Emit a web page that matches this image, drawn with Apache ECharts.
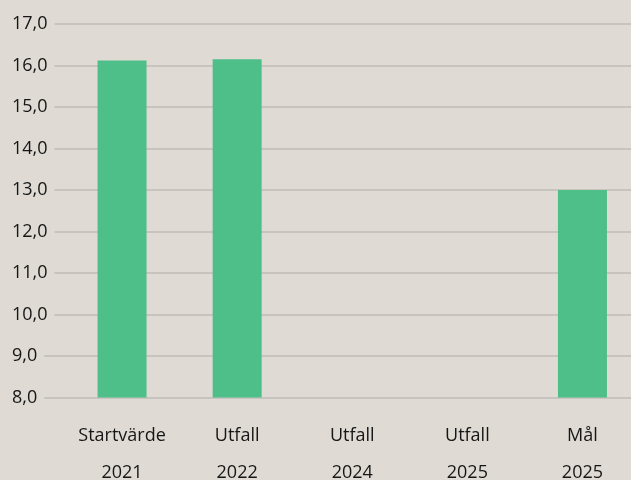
<!DOCTYPE html>
<html>
<head>
<meta charset="utf-8">
<script src="https://cdn.jsdelivr.net/npm/echarts@6/dist/echarts.min.js"></script>
<style>
  html, body { margin: 0; padding: 0; background: #dfdbd4; }
  #chart { width: 631px; height: 480px; }
</style>
</head>
<body>
<div id="chart"></div>
<script>
// Chart data
const categories = ['Startvärde\n2021', 'Utfall\n2022', 'Utfall\n2024', 'Utfall\n2025', 'Mål\n2025'];
const values = [16.12, 16.15, null, null, 13.0];
const yMin = 8;
const yMax = 17;
const yStep = 1;

const chart = echarts.init(document.getElementById('chart'));
const font = '"Open Sans", sans-serif';

// grid 0 carries the value labels and grid lines, grid 1 carries the bars
chart.setOption({
  backgroundColor: '#dfdbd4',
  animation: false,
  grid: [
    { left: 12, right: -9, top: 24, bottom: 82.5, outerBoundsMode: 'none' },
    { left: 64.5, right: -9, top: 24, bottom: 82.5, outerBoundsMode: 'none' }
  ],
  xAxis: [
    { gridIndex: 0, type: 'category', data: categories, show: false },
    {
      gridIndex: 1,
      type: 'category',
      data: categories,
      axisLine: { show: false },
      axisTick: { show: false },
      axisLabel: {
        interval: 0,
        color: '#161616',
        fontFamily: font,
        fontSize: 18,
        lineHeight: 37,
        margin: 20
      }
    }
  ],
  yAxis: [
    {
      gridIndex: 0,
      type: 'value',
      min: yMin,
      max: yMax,
      interval: yStep,
      axisLine: { show: false },
      axisTick: { show: false },
      splitLine: { lineStyle: { color: '#c7c3be', width: 2 } },
      axisLabel: {
        inside: true,
        margin: 0,
        color: '#161616',
        fontFamily: font,
        fontSize: 18,
        backgroundColor: '#dfdbd4',
        padding: [2, 7, 2, 0],
        formatter: v => v.toFixed(1).replace('.', ',')
      }
    },
    { gridIndex: 1, type: 'value', min: yMin, max: yMax, interval: yStep, show: false }
  ],
  series: [
    {
      type: 'bar',
      xAxisIndex: 1,
      yAxisIndex: 1,
      data: values,
      barWidth: 49,
      itemStyle: { color: '#4fbf8a' }
    }
  ]
});
</script>
</body>
</html>
